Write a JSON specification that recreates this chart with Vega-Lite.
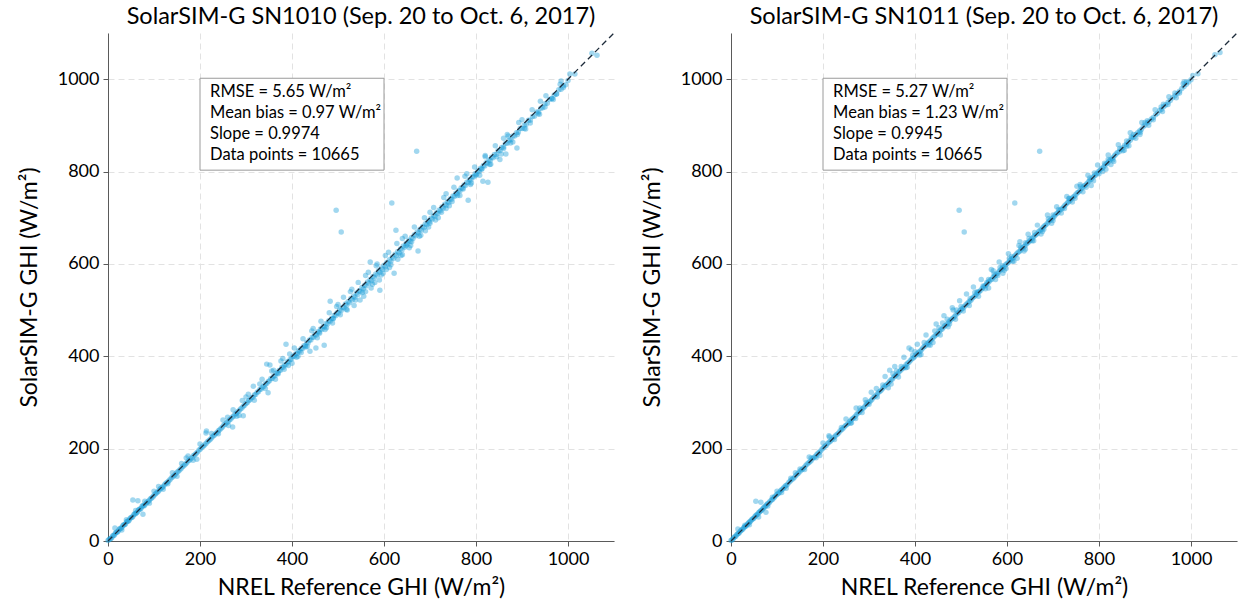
{
"$schema": "https://vega.github.io/schema/vega-lite/v6.json",
"background": "white",
"padding": {"left": 18, "top": 4, "right": 0, "bottom": 2},
"config": {
 "font": "Lato",
 "view": {"stroke": null},
 "concat": {"spacing": 26},
 "title": {"fontSize": 23.5, "fontWeight": "normal", "color": "#000000", "offset": 4},
 "axis": {"domainColor": "#5a5a5a", "tickColor": "#5a5a5a", "tickSize": 5, "labelFontSize": 18, "labelColor": "#000000", "labelFlush": false, "labelPadding": 4, "titleFontSize": 23, "titleFontWeight": "normal", "titleColor": "#000000", "gridColor": "#e2e2e2", "gridDash": [6, 4]},
 "axisY": {"titlePadding": 16},
 "axisX": {"titlePadding": 8}
},
"datasets": {"ghi": [
{"ref":0,"sn1010":1,"sn1011":1},{"ref":4,"sn1010":5,"sn1011":4},{"ref":8,"sn1010":7,"sn1011":9},{"ref":12,"sn1010":12,"sn1011":13},{"ref":16,"sn1010":17,"sn1011":16},{"ref":20,"sn1010":19,"sn1011":21},{"ref":24,"sn1010":25,"sn1011":25},{"ref":28,"sn1010":27,"sn1011":29},{"ref":32,"sn1010":33,"sn1011":32},{"ref":36,"sn1010":35,"sn1011":37},{"ref":40,"sn1010":41,"sn1011":41},{"ref":44,"sn1010":43,"sn1011":45},{"ref":48,"sn1010":49,"sn1011":48},{"ref":52,"sn1010":51,"sn1011":53},{"ref":56,"sn1010":57,"sn1011":57},{"ref":60,"sn1010":59,"sn1011":61},{"ref":64,"sn1010":63,"sn1011":65},{"ref":68,"sn1010":69,"sn1011":68},{"ref":72,"sn1010":71,"sn1011":73},{"ref":76,"sn1010":77,"sn1011":77},{"ref":80,"sn1010":78,"sn1011":81},{"ref":85,"sn1010":84,"sn1011":86},{"ref":90,"sn1010":89,"sn1011":90},{"ref":95,"sn1010":93,"sn1011":96},{"ref":100,"sn1010":99,"sn1011":101},{"ref":105,"sn1010":104,"sn1011":105},{"ref":110,"sn1010":108,"sn1011":111},{"ref":115,"sn1010":114,"sn1011":116},{"ref":120,"sn1010":118,"sn1011":120},{"ref":126,"sn1010":125,"sn1011":127},{"ref":132,"sn1010":130,"sn1011":133},{"ref":138,"sn1010":137,"sn1011":138},{"ref":144,"sn1010":142,"sn1011":145},{"ref":150,"sn1010":149,"sn1011":151},{"ref":156,"sn1010":154,"sn1011":156},{"ref":162,"sn1010":161,"sn1011":163},{"ref":168,"sn1010":166,"sn1011":169},{"ref":174,"sn1010":173,"sn1011":174},{"ref":180,"sn1010":178,"sn1011":181},{"ref":186,"sn1010":185,"sn1011":187},{"ref":192,"sn1010":190,"sn1011":192},{"ref":198,"sn1010":197,"sn1011":199},{"ref":204,"sn1010":203,"sn1011":205},{"ref":210,"sn1010":208,"sn1011":211},{"ref":216,"sn1010":215,"sn1011":216},{"ref":222,"sn1010":220,"sn1011":223},{"ref":228,"sn1010":227,"sn1011":229},{"ref":234,"sn1010":232,"sn1011":234},{"ref":240,"sn1010":239,"sn1011":241},{"ref":246,"sn1010":244,"sn1011":247},{"ref":252,"sn1010":251,"sn1011":252},{"ref":258,"sn1010":256,"sn1011":259},{"ref":264,"sn1010":262,"sn1011":265},{"ref":270,"sn1010":268,"sn1011":270},{"ref":276,"sn1010":275,"sn1011":277},{"ref":282,"sn1010":280,"sn1011":283},{"ref":288,"sn1010":286,"sn1011":288},{"ref":294,"sn1010":292,"sn1011":295},{"ref":300,"sn1010":298,"sn1011":301},{"ref":306,"sn1010":304,"sn1011":306},{"ref":312,"sn1010":310,"sn1011":313},{"ref":318,"sn1010":316,"sn1011":319},{"ref":324,"sn1010":322,"sn1011":324},{"ref":330,"sn1010":328,"sn1011":331},{"ref":336,"sn1010":333,"sn1011":337},{"ref":342,"sn1010":340,"sn1011":342},{"ref":348,"sn1010":345,"sn1011":349},{"ref":354,"sn1010":352,"sn1011":355},{"ref":360,"sn1010":357,"sn1011":360},{"ref":366,"sn1010":364,"sn1011":367},{"ref":372,"sn1010":369,"sn1011":373},{"ref":378,"sn1010":376,"sn1011":378},{"ref":384,"sn1010":381,"sn1011":385},{"ref":390,"sn1010":388,"sn1011":391},{"ref":396,"sn1010":393,"sn1011":396},{"ref":402,"sn1010":400,"sn1011":403},{"ref":408,"sn1010":405,"sn1011":409},{"ref":414,"sn1010":412,"sn1011":414},{"ref":420,"sn1010":417,"sn1011":421},{"ref":426,"sn1010":423,"sn1011":427},{"ref":432,"sn1010":430,"sn1011":432},{"ref":438,"sn1010":435,"sn1011":439},{"ref":444,"sn1010":441,"sn1011":445},{"ref":450,"sn1010":447,"sn1011":450},{"ref":456,"sn1010":453,"sn1011":457},{"ref":462,"sn1010":459,"sn1011":463},{"ref":468,"sn1010":465,"sn1011":468},{"ref":474,"sn1010":471,"sn1011":475},{"ref":480,"sn1010":477,"sn1011":481},{"ref":486,"sn1010":482,"sn1011":486},{"ref":492,"sn1010":489,"sn1011":493},{"ref":498,"sn1010":494,"sn1011":499},{"ref":504,"sn1010":501,"sn1011":504},{"ref":510,"sn1010":506,"sn1011":511},{"ref":516,"sn1010":513,"sn1011":517},{"ref":522,"sn1010":518,"sn1011":522},{"ref":528,"sn1010":525,"sn1011":529},{"ref":534,"sn1010":530,"sn1011":535},{"ref":540,"sn1010":537,"sn1011":540},{"ref":546,"sn1010":542,"sn1011":547},{"ref":552,"sn1010":549,"sn1011":553},{"ref":558,"sn1010":554,"sn1011":558},{"ref":564,"sn1010":561,"sn1011":565},{"ref":570,"sn1010":566,"sn1011":571},{"ref":576,"sn1010":573,"sn1011":576},{"ref":582,"sn1010":578,"sn1011":583},{"ref":588,"sn1010":585,"sn1011":589},{"ref":594,"sn1010":591,"sn1011":594},{"ref":600,"sn1010":597,"sn1011":601},{"ref":606,"sn1010":603,"sn1011":607},{"ref":612,"sn1010":609,"sn1011":612},{"ref":618,"sn1010":615,"sn1011":619},{"ref":624,"sn1010":621,"sn1011":625},{"ref":630,"sn1010":627,"sn1011":630},{"ref":636,"sn1010":633,"sn1011":637},{"ref":642,"sn1010":639,"sn1011":643},{"ref":648,"sn1010":645,"sn1011":648},{"ref":654,"sn1010":651,"sn1011":655},{"ref":660,"sn1010":657,"sn1011":661},{"ref":666,"sn1010":663,"sn1011":666},{"ref":672,"sn1010":669,"sn1011":673},{"ref":678,"sn1010":675,"sn1011":679},{"ref":684,"sn1010":681,"sn1011":684},{"ref":690,"sn1010":687,"sn1011":691},{"ref":696,"sn1010":693,"sn1011":697},{"ref":702,"sn1010":699,"sn1011":702},{"ref":708,"sn1010":705,"sn1011":709},{"ref":714,"sn1010":711,"sn1011":715},{"ref":720,"sn1010":717,"sn1011":720},{"ref":726,"sn1010":723,"sn1011":727},{"ref":732,"sn1010":729,"sn1011":733},{"ref":738,"sn1010":735,"sn1011":738},{"ref":744,"sn1010":741,"sn1011":745},{"ref":750,"sn1010":747,"sn1011":751},{"ref":756,"sn1010":753,"sn1011":756},{"ref":762,"sn1010":759,"sn1011":763},{"ref":768,"sn1010":765,"sn1011":769},{"ref":774,"sn1010":771,"sn1011":774},{"ref":780,"sn1010":777,"sn1011":781},{"ref":786,"sn1010":783,"sn1011":787},{"ref":792,"sn1010":789,"sn1011":792},{"ref":798,"sn1010":795,"sn1011":799},{"ref":804,"sn1010":801,"sn1011":805},{"ref":810,"sn1010":807,"sn1011":810},{"ref":816,"sn1010":813,"sn1011":817},{"ref":822,"sn1010":819,"sn1011":823},{"ref":828,"sn1010":825,"sn1011":828},{"ref":834,"sn1010":831,"sn1011":835},{"ref":840,"sn1010":837,"sn1011":841},{"ref":848,"sn1010":845,"sn1011":848},{"ref":856,"sn1010":852,"sn1011":857},{"ref":864,"sn1010":861,"sn1011":864},{"ref":872,"sn1010":868,"sn1011":873},{"ref":880,"sn1010":877,"sn1011":880},{"ref":888,"sn1010":884,"sn1011":888},{"ref":896,"sn1010":893,"sn1011":897},{"ref":905,"sn1010":901,"sn1011":905},{"ref":914,"sn1010":911,"sn1011":914},{"ref":923,"sn1010":919,"sn1011":923},{"ref":932,"sn1010":929,"sn1011":932},{"ref":941,"sn1010":937,"sn1011":941},{"ref":950,"sn1010":947,"sn1011":950},{"ref":960,"sn1010":956,"sn1011":960},{"ref":970,"sn1010":966,"sn1011":969},{"ref":980,"sn1010":977,"sn1011":980},{"ref":990,"sn1010":986,"sn1011":989},{"ref":1000,"sn1010":997,"sn1011":999},
{"ref":2,"sn1010":3,"sn1011":2},{"ref":6,"sn1010":5,"sn1011":7},{"ref":10,"sn1010":11,"sn1011":10},{"ref":14,"sn1010":13,"sn1011":15},{"ref":18,"sn1010":19,"sn1011":18},{"ref":22,"sn1010":21,"sn1011":23},{"ref":26,"sn1010":27,"sn1011":26},{"ref":30,"sn1010":29,"sn1011":31},{"ref":34,"sn1010":35,"sn1011":34},{"ref":38,"sn1010":37,"sn1011":39},{"ref":42,"sn1010":43,"sn1011":42},{"ref":46,"sn1010":45,"sn1011":47},{"ref":50,"sn1010":51,"sn1011":50},{"ref":54,"sn1010":53,"sn1011":55},{"ref":58,"sn1010":59,"sn1011":58},{"ref":62,"sn1010":61,"sn1011":63},{"ref":66,"sn1010":67,"sn1011":66},{"ref":70,"sn1010":69,"sn1011":71},{"ref":74,"sn1010":75,"sn1011":74},{"ref":78,"sn1010":76,"sn1011":79},{"ref":83,"sn1010":82,"sn1011":83},{"ref":88,"sn1010":86,"sn1011":89},{"ref":93,"sn1010":92,"sn1011":93},{"ref":98,"sn1010":96,"sn1011":99},{"ref":103,"sn1010":102,"sn1011":103},{"ref":108,"sn1010":106,"sn1011":109},{"ref":113,"sn1010":112,"sn1011":113},{"ref":118,"sn1010":116,"sn1011":119},{"ref":123,"sn1010":122,"sn1011":123},{"ref":129,"sn1010":127,"sn1011":130},{"ref":135,"sn1010":133,"sn1011":135},{"ref":141,"sn1010":139,"sn1011":142},{"ref":147,"sn1010":145,"sn1011":147},{"ref":153,"sn1010":151,"sn1011":154},{"ref":159,"sn1010":157,"sn1011":159},{"ref":165,"sn1010":163,"sn1011":166},{"ref":171,"sn1010":169,"sn1011":171},{"ref":177,"sn1010":175,"sn1011":178},{"ref":183,"sn1010":181,"sn1011":183},{"ref":189,"sn1010":187,"sn1011":190},{"ref":195,"sn1010":193,"sn1011":195},{"ref":201,"sn1010":199,"sn1011":202},{"ref":207,"sn1010":205,"sn1011":207},{"ref":213,"sn1010":211,"sn1011":214},{"ref":219,"sn1010":217,"sn1011":219},{"ref":225,"sn1010":223,"sn1011":226},{"ref":231,"sn1010":229,"sn1011":231},{"ref":237,"sn1010":235,"sn1011":238},{"ref":243,"sn1010":241,"sn1011":243},{"ref":249,"sn1010":247,"sn1011":250},{"ref":255,"sn1010":253,"sn1011":255},{"ref":261,"sn1010":258,"sn1011":262},{"ref":267,"sn1010":264,"sn1011":267},{"ref":273,"sn1010":270,"sn1011":274},{"ref":279,"sn1010":276,"sn1011":279},{"ref":285,"sn1010":282,"sn1011":286},{"ref":291,"sn1010":288,"sn1011":291},{"ref":297,"sn1010":294,"sn1011":298},{"ref":303,"sn1010":300,"sn1011":303},{"ref":309,"sn1010":306,"sn1011":310},{"ref":315,"sn1010":311,"sn1011":315},{"ref":321,"sn1010":317,"sn1011":322},{"ref":327,"sn1010":323,"sn1011":327},{"ref":333,"sn1010":329,"sn1011":334},{"ref":339,"sn1010":335,"sn1011":339},{"ref":345,"sn1010":341,"sn1011":346},{"ref":351,"sn1010":347,"sn1011":351},{"ref":357,"sn1010":352,"sn1011":358},{"ref":363,"sn1010":358,"sn1011":363},{"ref":369,"sn1010":364,"sn1011":370},{"ref":375,"sn1010":370,"sn1011":375},{"ref":381,"sn1010":376,"sn1011":382},{"ref":387,"sn1010":382,"sn1011":387},{"ref":393,"sn1010":388,"sn1011":394},{"ref":399,"sn1010":394,"sn1011":399},{"ref":405,"sn1010":400,"sn1011":406},{"ref":411,"sn1010":406,"sn1011":411},{"ref":417,"sn1010":411,"sn1011":418},{"ref":423,"sn1010":417,"sn1011":423},{"ref":429,"sn1010":423,"sn1011":430},{"ref":435,"sn1010":429,"sn1011":435},{"ref":441,"sn1010":435,"sn1011":442},{"ref":447,"sn1010":441,"sn1011":447},{"ref":453,"sn1010":446,"sn1011":454},{"ref":459,"sn1010":452,"sn1011":459},{"ref":465,"sn1010":458,"sn1011":466},{"ref":471,"sn1010":464,"sn1011":471},{"ref":477,"sn1010":470,"sn1011":478},{"ref":483,"sn1010":476,"sn1011":483},{"ref":489,"sn1010":482,"sn1011":490},{"ref":495,"sn1010":488,"sn1011":495},{"ref":501,"sn1010":493,"sn1011":502},{"ref":507,"sn1010":499,"sn1011":507},{"ref":513,"sn1010":505,"sn1011":514},{"ref":519,"sn1010":511,"sn1011":519},{"ref":525,"sn1010":516,"sn1011":526},{"ref":531,"sn1010":522,"sn1011":531},{"ref":537,"sn1010":528,"sn1011":538},{"ref":543,"sn1010":534,"sn1011":543},{"ref":549,"sn1010":540,"sn1011":550},{"ref":555,"sn1010":546,"sn1011":555},{"ref":561,"sn1010":552,"sn1011":562},{"ref":567,"sn1010":558,"sn1011":567},{"ref":573,"sn1010":564,"sn1011":574},{"ref":579,"sn1010":570,"sn1011":579},{"ref":585,"sn1010":576,"sn1011":586},{"ref":591,"sn1010":582,"sn1011":591},{"ref":597,"sn1010":588,"sn1011":598},{"ref":603,"sn1010":594,"sn1011":603},{"ref":609,"sn1010":600,"sn1011":610},{"ref":615,"sn1010":606,"sn1011":615},{"ref":621,"sn1010":612,"sn1011":622},{"ref":627,"sn1010":618,"sn1011":627},{"ref":633,"sn1010":624,"sn1011":634},{"ref":639,"sn1010":630,"sn1011":639},{"ref":645,"sn1010":636,"sn1011":646},{"ref":651,"sn1010":643,"sn1011":651},{"ref":657,"sn1010":649,"sn1011":658},{"ref":663,"sn1010":655,"sn1011":663},{"ref":669,"sn1010":661,"sn1011":670},{"ref":675,"sn1010":667,"sn1011":675},{"ref":681,"sn1010":673,"sn1011":682},{"ref":687,"sn1010":679,"sn1011":687},{"ref":693,"sn1010":685,"sn1011":694},{"ref":699,"sn1010":691,"sn1011":699},{"ref":705,"sn1010":697,"sn1011":706},{"ref":711,"sn1010":703,"sn1011":711},{"ref":717,"sn1010":709,"sn1011":718},{"ref":723,"sn1010":715,"sn1011":723},{"ref":729,"sn1010":721,"sn1011":730},{"ref":735,"sn1010":727,"sn1011":735},{"ref":741,"sn1010":733,"sn1011":742},{"ref":747,"sn1010":740,"sn1011":747},{"ref":753,"sn1010":746,"sn1011":754},{"ref":759,"sn1010":752,"sn1011":759},{"ref":765,"sn1010":758,"sn1011":766},{"ref":771,"sn1010":764,"sn1011":771},{"ref":777,"sn1010":770,"sn1011":778},{"ref":783,"sn1010":776,"sn1011":783},{"ref":789,"sn1010":782,"sn1011":790},{"ref":795,"sn1010":788,"sn1011":795},{"ref":801,"sn1010":794,"sn1011":802},{"ref":807,"sn1010":800,"sn1011":807},{"ref":813,"sn1010":806,"sn1011":814},{"ref":819,"sn1010":812,"sn1011":819},{"ref":825,"sn1010":818,"sn1011":826},{"ref":831,"sn1010":824,"sn1011":831},{"ref":837,"sn1010":830,"sn1011":838},{"ref":844,"sn1010":837,"sn1011":843},{"ref":852,"sn1010":845,"sn1011":852},{"ref":860,"sn1010":853,"sn1011":859},{"ref":868,"sn1010":861,"sn1011":868},{"ref":876,"sn1010":869,"sn1011":875},{"ref":884,"sn1010":877,"sn1011":884},{"ref":892,"sn1010":885,"sn1011":891},{"ref":900,"sn1010":893,"sn1011":900},{"ref":909,"sn1010":902,"sn1011":908},{"ref":918,"sn1010":911,"sn1011":917},{"ref":927,"sn1010":920,"sn1011":926},{"ref":936,"sn1010":929,"sn1011":935},{"ref":945,"sn1010":938,"sn1011":944},{"ref":955,"sn1010":948,"sn1011":954},{"ref":965,"sn1010":958,"sn1011":964},{"ref":975,"sn1010":968,"sn1011":974},{"ref":985,"sn1010":978,"sn1011":984},{"ref":995,"sn1010":988,"sn1011":994},
{"ref":54,"sn1010":89,"sn1011":86},{"ref":65,"sn1010":87,"sn1011":84},{"ref":76,"sn1010":58,"sn1011":62},{"ref":15,"sn1010":28,"sn1011":26},{"ref":213,"sn1010":234,"sn1011":228},{"ref":193,"sn1010":177,"sn1011":185},{"ref":174,"sn1010":184,"sn1011":180},{"ref":387,"sn1010":426,"sn1011":418},{"ref":439,"sn1010":411,"sn1011":430},{"ref":452,"sn1010":418,"sn1011":462},{"ref":470,"sn1010":424,"sn1011":480},{"ref":345,"sn1010":383,"sn1011":370},{"ref":352,"sn1010":381,"sn1011":362},{"ref":316,"sn1010":335,"sn1011":330},{"ref":348,"sn1010":321,"sn1011":340},{"ref":294,"sn1010":271,"sn1011":300},{"ref":271,"sn1010":247,"sn1011":265},{"ref":214,"sn1010":238,"sn1011":225},{"ref":496,"sn1010":716,"sn1011":716},{"ref":507,"sn1010":669,"sn1011":669},{"ref":617,"sn1010":732,"sn1011":732},{"ref":626,"sn1010":673,"sn1011":640},{"ref":674,"sn1010":628,"sn1011":665},{"ref":622,"sn1010":580,"sn1011":612},{"ref":570,"sn1010":604,"sn1011":585},{"ref":591,"sn1010":543,"sn1011":580},{"ref":483,"sn1010":519,"sn1011":500},{"ref":443,"sn1010":455,"sn1011":455},{"ref":671,"sn1010":844,"sn1011":844},{"ref":759,"sn1010":786,"sn1011":772},{"ref":815,"sn1010":779,"sn1011":805},{"ref":826,"sn1010":777,"sn1011":815},{"ref":783,"sn1010":738,"sn1011":770},{"ref":865,"sn1010":838,"sn1011":856},{"ref":889,"sn1010":851,"sn1011":880},{"ref":852,"sn1010":826,"sn1011":845},{"ref":870,"sn1010":877,"sn1011":875},{"ref":983,"sn1010":989,"sn1011":990},{"ref":1004,"sn1010":1011,"sn1011":1008},{"ref":1015,"sn1010":1011,"sn1011":1012},{"ref":1052,"sn1010":1056,"sn1011":1053},{"ref":1063,"sn1010":1052,"sn1011":1058},
{"ref":520,"sn1010":500,"sn1011":525},{"ref":535,"sn1010":510,"sn1011":540},{"ref":548,"sn1010":522,"sn1011":552},{"ref":556,"sn1010":530,"sn1011":560},{"ref":560,"sn1010":540,"sn1011":548},{"ref":572,"sn1010":548,"sn1011":578},{"ref":580,"sn1010":560,"sn1011":575},{"ref":590,"sn1010":565,"sn1011":596},{"ref":598,"sn1010":580,"sn1011":590},{"ref":605,"sn1010":588,"sn1011":612},{"ref":612,"sn1010":592,"sn1011":606},{"ref":630,"sn1010":610,"sn1011":636},{"ref":640,"sn1010":620,"sn1011":632},{"ref":648,"sn1010":640,"sn1011":655},{"ref":655,"sn1010":635,"sn1011":650},{"ref":660,"sn1010":648,"sn1011":668},{"ref":680,"sn1010":662,"sn1011":675},{"ref":690,"sn1010":672,"sn1011":698},{"ref":700,"sn1010":688,"sn1011":694},{"ref":712,"sn1010":695,"sn1011":718},{"ref":725,"sn1010":712,"sn1011":720},{"ref":735,"sn1010":720,"sn1011":742},{"ref":748,"sn1010":735,"sn1011":742},{"ref":760,"sn1010":748,"sn1011":768},{"ref":772,"sn1010":762,"sn1011":766},{"ref":790,"sn1010":775,"sn1011":797},{"ref":800,"sn1010":792,"sn1011":795},{"ref":812,"sn1010":805,"sn1011":818},{"ref":830,"sn1010":815,"sn1011":825},{"ref":845,"sn1010":832,"sn1011":850},{"ref":860,"sn1010":850,"sn1011":855},{"ref":875,"sn1010":862,"sn1011":880},{"ref":890,"sn1010":880,"sn1011":885},{"ref":905,"sn1010":893,"sn1011":910},{"ref":918,"sn1010":905,"sn1011":912},{"ref":935,"sn1010":925,"sn1011":940},{"ref":950,"sn1010":940,"sn1011":945},{"ref":965,"sn1010":958,"sn1011":970},{"ref":975,"sn1010":968,"sn1011":970},{"ref":990,"sn1010":982,"sn1011":994},{"ref":400,"sn1010":385,"sn1011":410},{"ref":410,"sn1010":398,"sn1011":403},{"ref":420,"sn1010":408,"sn1011":430},{"ref":430,"sn1010":420,"sn1011":425},{"ref":460,"sn1010":450,"sn1011":472},{"ref":475,"sn1010":462,"sn1011":470},{"ref":490,"sn1010":482,"sn1011":500},{"ref":505,"sn1010":490,"sn1011":498},{"ref":360,"sn1010":370,"sn1011":368},{"ref":370,"sn1010":362,"sn1011":378},{"ref":380,"sn1010":395,"sn1011":375},{"ref":395,"sn1010":405,"sn1011":402},{"ref":330,"sn1010":340,"sn1011":338},{"ref":300,"sn1010":312,"sn1011":296},{"ref":280,"sn1010":270,"sn1011":288},{"ref":260,"sn1010":268,"sn1011":255},{"ref":240,"sn1010":232,"sn1011":246},{"ref":225,"sn1010":233,"sn1011":220},{"ref":150,"sn1010":140,"sn1011":156},{"ref":160,"sn1010":168,"sn1011":155},{"ref":130,"sn1010":124,"sn1011":136},{"ref":110,"sn1010":118,"sn1011":105},{"ref":90,"sn1010":82,"sn1011":95},{"ref":80,"sn1010":86,"sn1011":76},{"ref":40,"sn1010":46,"sn1011":35},{"ref":30,"sn1010":24,"sn1011":34},{"ref":500,"sn1010":512,"sn1011":508},{"ref":530,"sn1010":545,"sn1011":538},{"ref":560,"sn1010":575,"sn1011":566},{"ref":585,"sn1010":600,"sn1011":592},{"ref":610,"sn1010":625,"sn1011":616},{"ref":640,"sn1010":655,"sn1011":646},{"ref":700,"sn1010":712,"sn1011":706},{"ref":735,"sn1010":752,"sn1011":741},{"ref":780,"sn1010":795,"sn1011":786},{"ref":820,"sn1010":835,"sn1011":826},{"ref":860,"sn1010":872,"sn1011":866},{"ref":900,"sn1010":912,"sn1011":906},{"ref":940,"sn1010":952,"sn1011":946},
{"ref":305,"sn1010":318,"sn1011":322},{"ref":318,"sn1010":305,"sn1011":312},{"ref":335,"sn1010":350,"sn1011":356},{"ref":342,"sn1010":330,"sn1011":332},{"ref":356,"sn1010":368,"sn1011":378},{"ref":364,"sn1010":350,"sn1011":355},{"ref":376,"sn1010":390,"sn1011":398},{"ref":383,"sn1010":372,"sn1011":376},{"ref":392,"sn1010":380,"sn1011":414},{"ref":405,"sn1010":418,"sn1011":426},{"ref":413,"sn1010":400,"sn1011":404},{"ref":424,"sn1010":438,"sn1011":446},{"ref":433,"sn1010":421,"sn1011":424},{"ref":446,"sn1010":460,"sn1011":470},{"ref":455,"sn1010":440,"sn1011":446},{"ref":463,"sn1010":476,"sn1011":488},{"ref":472,"sn1010":458,"sn1011":464},{"ref":481,"sn1010":494,"sn1011":505},{"ref":488,"sn1010":472,"sn1011":480},{"ref":497,"sn1010":508,"sn1011":520},{"ref":512,"sn1010":528,"sn1011":535},{"ref":518,"sn1010":502,"sn1011":510},{"ref":527,"sn1010":540,"sn1011":550},{"ref":538,"sn1010":522,"sn1011":530},{"ref":544,"sn1010":560,"sn1011":566},{"ref":553,"sn1010":538,"sn1011":546},{"ref":566,"sn1010":582,"sn1011":588},{"ref":575,"sn1010":556,"sn1011":566},{"ref":583,"sn1010":596,"sn1011":604},{"ref":594,"sn1010":576,"sn1011":586},{"ref":603,"sn1010":618,"sn1011":622},{"ref":615,"sn1010":598,"sn1011":606},{"ref":628,"sn1010":644,"sn1011":648},{"ref":637,"sn1010":618,"sn1011":628},{"ref":646,"sn1010":660,"sn1011":664},{"ref":658,"sn1010":640,"sn1011":650},{"ref":666,"sn1010":680,"sn1011":684},{"ref":677,"sn1010":660,"sn1011":670},{"ref":688,"sn1010":700,"sn1011":706},{"ref":697,"sn1010":680,"sn1011":688},{"ref":708,"sn1010":722,"sn1011":724},{"ref":718,"sn1010":700,"sn1011":710},{"ref":730,"sn1010":744,"sn1011":746},{"ref":742,"sn1010":726,"sn1011":734},{"ref":752,"sn1010":766,"sn1011":768},{"ref":765,"sn1010":748,"sn1011":756},{"ref":776,"sn1010":790,"sn1011":792},{"ref":788,"sn1010":772,"sn1011":780},{"ref":797,"sn1010":810,"sn1011":814},{"ref":808,"sn1010":792,"sn1011":800},{"ref":820,"sn1010":832,"sn1011":836},{"ref":832,"sn1010":816,"sn1011":822},{"ref":842,"sn1010":856,"sn1011":858},{"ref":855,"sn1010":838,"sn1011":846},{"ref":868,"sn1010":880,"sn1011":884},{"ref":880,"sn1010":864,"sn1011":872},{"ref":893,"sn1010":906,"sn1011":906},{"ref":908,"sn1010":892,"sn1011":900},{"ref":922,"sn1010":934,"sn1011":934},{"ref":938,"sn1010":924,"sn1011":930},{"ref":952,"sn1010":964,"sn1011":962},{"ref":968,"sn1010":956,"sn1011":960},{"ref":985,"sn1010":996,"sn1011":994},{"ref":250,"sn1010":262,"sn1011":264},{"ref":262,"sn1010":250,"sn1011":256},{"ref":272,"sn1010":284,"sn1011":288},{"ref":285,"sn1010":272,"sn1011":278},{"ref":292,"sn1010":304,"sn1011":306},{"ref":200,"sn1010":210,"sn1011":212},{"ref":185,"sn1010":175,"sn1011":180},{"ref":170,"sn1010":180,"sn1011":182},{"ref":140,"sn1010":148,"sn1011":148},{"ref":120,"sn1010":112,"sn1011":114},{"ref":100,"sn1010":108,"sn1011":108},{"ref":60,"sn1010":66,"sn1011":52}
]},
"hconcat": [
 {
  "width": 506, "height": 508,
  "title": "SolarSIM-G SN1010 (Sep. 20 to Oct. 6, 2017)",
  "layer": [
   {"data": {"name": "ghi"},
    "mark": {"type": "point", "filled": true, "size": 30, "opacity": 0.42, "color": "#1f9fd8"},
    "encoding": {
     "x": {"field": "ref", "type": "quantitative", "scale": {"domain": [0, 1100], "nice": false}, "title": "NREL Reference GHI (W/m²)", "axis": {"values": [0, 200, 400, 600, 800, 1000], "format": "d"}},
     "y": {"field": "sn1010", "type": "quantitative", "scale": {"domain": [0, 1100], "nice": false}, "title": "SolarSIM-G GHI (W/m²)", "axis": {"values": [0, 200, 400, 600, 800, 1000], "format": "d"}}
    }},
   {"data": {"values": [{}]},
    "mark": {"type": "rule", "color": "#1d2b3a", "strokeDash": [6, 4], "strokeWidth": 1.3},
    "encoding": {"x": {"datum": 0}, "y": {"datum": 0}, "x2": {"datum": 1100}, "y2": {"datum": 1100}}},
   {"data": {"values": [{}]},
    "mark": {"type": "rect", "fill": "white", "stroke": "#9a9a9a", "strokeWidth": 1},
    "encoding": {"x": {"datum": 200}, "x2": {"datum": 600}, "y": {"datum": 803}, "y2": {"datum": 1002}}},
   {"data": {"values": [{}]},
    "mark": {"type": "text", "align": "left", "baseline": "top", "fontSize": 16.5, "lineHeight": 21, "color": "#000000", "text": ["RMSE = 5.65 W/m²", "Mean bias = 0.97 W/m²", "Slope = 0.9974", "Data points = 10665"]},
    "encoding": {"x": {"datum": 222}, "y": {"datum": 990}}}
  ]
 },
 {
  "width": 506, "height": 508,
  "title": "SolarSIM-G SN1011 (Sep. 20 to Oct. 6, 2017)",
  "layer": [
   {"data": {"name": "ghi"},
    "mark": {"type": "point", "filled": true, "size": 30, "opacity": 0.42, "color": "#1f9fd8"},
    "encoding": {
     "x": {"field": "ref", "type": "quantitative", "scale": {"domain": [0, 1100], "nice": false}, "title": "NREL Reference GHI (W/m²)", "axis": {"values": [0, 200, 400, 600, 800, 1000], "format": "d"}},
     "y": {"field": "sn1011", "type": "quantitative", "scale": {"domain": [0, 1100], "nice": false}, "title": "SolarSIM-G GHI (W/m²)", "axis": {"values": [0, 200, 400, 600, 800, 1000], "format": "d"}}
    }},
   {"data": {"values": [{}]},
    "mark": {"type": "rule", "color": "#1d2b3a", "strokeDash": [6, 4], "strokeWidth": 1.3},
    "encoding": {"x": {"datum": 0}, "y": {"datum": 0}, "x2": {"datum": 1100}, "y2": {"datum": 1100}}},
   {"data": {"values": [{}]},
    "mark": {"type": "rect", "fill": "white", "stroke": "#9a9a9a", "strokeWidth": 1},
    "encoding": {"x": {"datum": 200}, "x2": {"datum": 600}, "y": {"datum": 803}, "y2": {"datum": 1002}}},
   {"data": {"values": [{}]},
    "mark": {"type": "text", "align": "left", "baseline": "top", "fontSize": 16.5, "lineHeight": 21, "color": "#000000", "text": ["RMSE = 5.27 W/m²", "Mean bias = 1.23 W/m²", "Slope = 0.9945", "Data points = 10665"]},
    "encoding": {"x": {"datum": 222}, "y": {"datum": 990}}}
  ]
 }
]
}
